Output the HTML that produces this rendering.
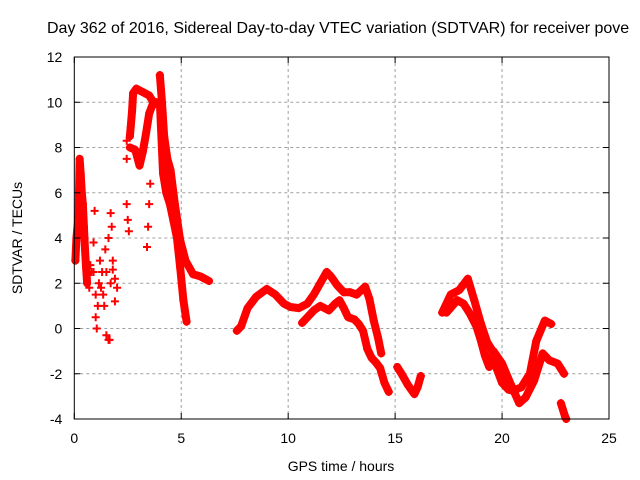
<!DOCTYPE html>
<html><head><meta charset="utf-8"><style>
body{margin:0;background:#fff;}
svg{display:block;font-family:"Liberation Sans",sans-serif;}
</style></head><body>
<svg id="chart" width="640" height="480">
<text x="47" y="33" font-size="16" fill="#000">Day 362 of 2016, Sidereal Day-to-day VTEC variation (SDTVAR) for receiver pove</text>
<text x="341" y="471" font-size="14" text-anchor="middle">GPS time / hours</text>
<text transform="translate(22,238) rotate(-90)" font-size="14" text-anchor="middle">SDTVAR / TECUs</text>
<g id="grid"></g><g id="marks"></g><g id="axes"></g>
</svg>
<script>
const xTicks=[0,5,10,15,20,25];
const yTicks=[-4,-2,0,2,4,6,8,10,12];
// tracks: time (hours) and SDTVAR values
const trackA_t=[7.6,7.8,8.1,8.5,9.0,9.4,9.8,10.1,10.5,10.9,11.2,11.5,11.8,12.0,12.3,12.6,12.9,13.2,13.6,13.8,14.0,14.2,14.35];
const trackA_v=[-0.1,0.1,0.9,1.4,1.75,1.5,1.1,0.95,0.9,1.1,1.5,2.0,2.5,2.3,1.9,1.6,1.6,1.5,1.85,1.3,0.35,-0.4,-1.1];
const trackB_t=[10.65,10.9,11.2,11.5,11.9,12.2,12.4,12.6,12.8,13.1,13.3,13.5,13.7,13.9,14.1,14.3,14.5,14.7];
const trackB_v=[0.25,0.5,0.8,1.0,0.8,1.1,1.25,0.9,0.5,0.4,0.2,-0.1,-0.9,-1.3,-1.5,-1.75,-2.4,-2.8];
const trackC_t=[15.1,15.3,15.6,15.9,16.05,16.2];
const trackC_v=[-1.7,-2.0,-2.5,-2.9,-2.6,-2.1];
const trackD_t=[17.2,17.6,18.0,18.4,18.7,19.0,19.3,19.5,19.7,20.0,20.3,20.5,20.9,21.3,21.6,21.8,22.0,22.3];
const trackD_v=[0.7,1.5,1.7,2.2,1.25,0.25,-0.6,-0.9,-1.65,-2.4,-2.7,-2.75,-2.6,-2.0,-0.55,-0.1,0.35,0.2];
const trackE_t=[17.4,17.9,18.2,18.5,18.8,19.0,19.2,19.4,19.6,20.0,20.4,20.8,21.1,21.5,21.9,22.2,22.6,22.9];
const trackE_v=[0.7,1.25,1.1,0.65,0.1,-0.5,-1.2,-1.7,-1.0,-1.55,-2.45,-3.3,-3.05,-2.3,-1.1,-1.4,-1.55,-2.0];
const trackF_t=[22.75,22.85,22.95,23.0];
const trackF_v=[-3.3,-3.6,-3.9,-4.0];
const trackG_t=[0.05,0.1,0.2,0.25,0.3,0.35,0.4,0.45,0.5,0.55,0.6];
const trackG_v=[3.0,4.0,5.0,7.5,6.8,6.0,5.5,4.5,3.5,2.7,2.0];
const trackH_t=[2.6,2.7,2.75,2.9,3.1,3.3,3.5,3.7,3.9,4.0];
const trackH_v=[8.5,9.6,10.4,10.6,10.5,10.4,10.3,10.0,9.9,10.0];
const trackI_t=[2.6,2.85,3.05,3.2,3.35,3.5,3.7,3.85];
const trackI_v=[8.0,7.9,7.2,7.8,8.6,9.5,10.0,10.0];
const trackJ_t=[4.0,4.1,4.2,4.35,4.5,4.7,4.95,5.2,5.55,5.9,6.3];
const trackJ_v=[11.2,10.0,8.5,7.5,7.0,5.5,3.9,3.0,2.4,2.3,2.1];
const trackK_t=[4.0,4.15,4.3,4.47,4.65,4.8,4.95,5.1,5.25];
const trackK_v=[10.0,6.85,6.0,5.5,4.7,4.0,2.7,1.25,0.3];
const scatter_t=[0.7,0.8,0.9,0.9,0.95,1.0,1.0,1.05,1.15,1.2,1.3,1.35,1.4,1.45,1.5,1.5,1.6,1.6,1.65,1.7,1.7,1.75,1.8,1.8,1.9,1.9,2.0,2.45,2.45,2.45,2.5,2.55,3.55,3.5,3.45,3.4,1.1,1.25,0.75];
const scatter_v=[1.8,2.5,3.8,2.5,5.2,1.5,0.5,0.0,2.0,3.0,2.5,1.5,1.0,3.5,-0.3,2.5,-0.5,4.0,-0.5,5.1,2.0,4.5,3.0,2.6,2.2,1.2,1.8,8.3,7.5,5.5,4.8,4.3,6.4,5.5,4.5,3.6,1.0,1.8,2.8];
const tracks=[[trackA_t,trackA_v],[trackB_t,trackB_v],[trackC_t,trackC_v],[trackD_t,trackD_v],[trackE_t,trackE_v],[trackF_t,trackF_v],[trackG_t,trackG_v],[trackH_t,trackH_v],[trackI_t,trackI_v],[trackJ_t,trackJ_v],[trackK_t,trackK_v]];

const L=74.3,R=609,T=57,B=419;
const xS=t=>L+t*(R-L)/25;
const yS=v=>B-(v+4)*(B-T)/16;
const NS='http://www.w3.org/2000/svg';
const grid=document.getElementById('grid'),marks=document.getElementById('marks'),axes=document.getElementById('axes');
function mk(tag,attrs,parent){const e=document.createElementNS(NS,tag);for(const k in attrs)e.setAttribute(k,attrs[k]);parent.appendChild(e);return e;}
xTicks.forEach(t=>{
  const x=xS(t);
  if(t>0&&t<25){const g=mk('line',{x1:x,x2:x,y1:T,y2:B,stroke:'#a0a0a0','stroke-dasharray':'3,3'},grid);
  
  }
  const tk=mk('path',{d:`M${x},${B}v-6M${x},${T}v6`,stroke:'#000'},axes);
  
  
  const lb=mk('text',{x:x,y:B+24,'font-size':14,'text-anchor':'middle'},axes);lb.textContent=t;
  
  
});
yTicks.forEach(v=>{
  const y=yS(v);
  if(v>-4&&v<12){const g=mk('line',{x1:L,x2:R,y1:y,y2:y,stroke:'#a0a0a0','stroke-dasharray':'3,3'},grid);
  
  }
  const tk=mk('path',{d:`M${L},${y}h6M${R},${y}h-6`,stroke:'#000'},axes);
  
  
  const lb=mk('text',{x:L-12,y:y+5,'font-size':14,'text-anchor':'end'},axes);lb.textContent=v;
  
  
});
const fr=mk('rect',{x:L,y:T,width:R-L,height:B-T,fill:'none',stroke:'#000'},axes);


function plus(t,v){
  const x=xS(t),y=yS(v);
  const p=mk('path',{d:`M${x-4},${y}h8M${x},${y-4}v8`,stroke:'#f00','stroke-width':2},marks);
  
  
}
tracks.forEach(([ts,vs])=>{
  const d=ts.map((t,i)=>(i?'L':'M')+xS(t)+','+yS(vs[i])).join('');
  const pl=mk('path',{d:d,fill:'none',stroke:'#f00','stroke-width':8,'stroke-linejoin':'round','stroke-linecap':'round'},marks);
  
  
  ts.forEach((t,i)=>plus(t,vs[i]));
});
scatter_t.forEach((t,i)=>plus(t,scatter_v[i]));
</script>
</body></html>
